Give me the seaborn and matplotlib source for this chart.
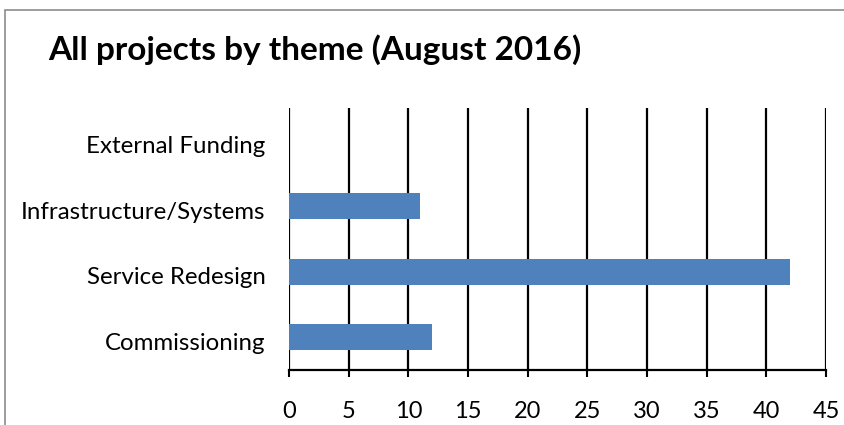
import matplotlib
matplotlib.use("Agg")
import matplotlib.pyplot as plt
import matplotlib.transforms as mtransforms
import seaborn as sns
import pandas as pd
from matplotlib.patches import Rectangle

themes = ["External Funding", "Infrastructure/Systems", "Service Redesign", "Commissioning"]
projects = [0, 11, 42, 12]
x_ticks = [0, 5, 10, 15, 20, 25, 30, 35, 40, 45]

sns.set_theme(style="white")
plt.rcParams["font.family"] = ["Lato", "DejaVu Sans"]

df = pd.DataFrame({"theme": themes, "projects": projects})

fig = plt.figure(figsize=(8.44, 4.25), dpi=100)
ax = fig.add_axes([289 / 844, 1 - 370 / 425, (826 - 289) / 844, (370 - 108) / 425])

sns.barplot(data=df, x="projects", y="theme", order=themes, orient="h",
            color="#4F81BD", saturation=1, width=0.4, linewidth=0, ax=ax, zorder=3)

ax.set_xlim(0, 45)
ax.set_ylim(3.5, -0.5)
ax.set_xticks(x_ticks)
ax.set_xticklabels([str(t) for t in x_ticks], fontsize=17, color="black")
ax.set_xlabel("")
ax.set_ylabel("")
ax.tick_params(axis="y", length=0, pad=17, labelsize=17.3, labelcolor="black")
ax.tick_params(axis="x", direction="out", length=5, width=1.5, color="black",
               pad=17, bottom=True)

# Category labels sit a little below the bar centres
shift = mtransforms.ScaledTranslation(0, -4 / 100, fig.dpi_scale_trans)
for lbl in ax.get_yticklabels():
    lbl.set_transform(lbl.get_transform() + shift)

for t in x_ticks:
    ax.axvline(t, color="black", lw=1.6, zorder=1)

for side in ("top", "right", "left"):
    ax.spines[side].set_visible(False)
ax.spines["bottom"].set_color("black")
ax.spines["bottom"].set_linewidth(1.6)
ax.spines["bottom"].set_zorder(4)

# Chart frame
fig.patches.append(Rectangle((5 / 844, -0.2), 1.2, 1.2 - 10 / 425,
                             transform=fig.transFigure, fill=False,
                             edgecolor="#8c8c8c", lw=1.2, clip_on=False))

fig.text(48 / 844, 1 - 50 / 425, "All projects by theme (August 2016)",
         fontsize=24, fontweight="bold", color="black", va="center", ha="left")

fig.savefig("out.png", dpi=100, facecolor="white")
